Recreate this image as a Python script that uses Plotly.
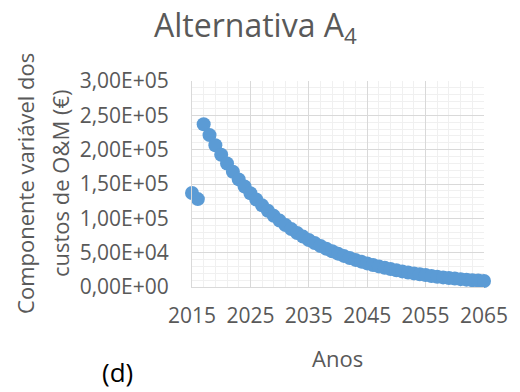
import plotly.graph_objects as go

# Annual variable O&M cost component, alternative A4
anos = list(range(2015, 2066))
custos = [
    137000, 128000,
    237000, 221200, 206500, 192700, 179900, 167900, 156700, 146300,
    136500, 127400, 118900, 111000, 103600, 96700, 90300, 84300,
    78700, 73400, 68500, 64000, 59700, 55700, 52000, 48600,
    45300, 42300, 39500, 36900, 34400, 32100, 30000, 28000,
    26100, 24400, 22700, 21200, 19800, 18500, 17300, 16100,
    15000, 14000, 13100, 12200, 11400, 10700, 9900, 9300, 8700,
]
y_ticks = [0, 50000, 100000, 150000, 200000, 250000, 300000]
y_labels = ["0,00E+00", "5,00E+04", "1,00E+05", "1,50E+05",
            "2,00E+05", "2,50E+05", "3,00E+05"]
x_ticks = [2015, 2025, 2035, 2045, 2055, 2065]

FONT = "Open Sans"
GREY = "#595959"

fig = go.Figure()
fig.add_trace(go.Scatter(
    x=anos, y=custos, mode="markers",
    marker=dict(size=14, color="#5B9BD5", line=dict(width=0)),
    showlegend=False, cliponaxis=False,
))

fig.update_layout(
    width=520, height=392,
    margin=dict(l=192, r=34, t=81, b=105),
    paper_bgcolor="white", plot_bgcolor="white",
    font=dict(family=FONT, color=GREY),
    xaxis=dict(
        range=[2015, 2065], tickvals=x_ticks,
        ticktext=[str(v) for v in x_ticks],
        tickfont=dict(size=21, color=GREY), ticks="", ticklen=0,
        ticklabelstandoff=10,
        showgrid=True, gridcolor="#D9D9D9", gridwidth=1,
        minor=dict(dtick=2, tick0=2015, showgrid=True, gridcolor="#F0F0F0", gridwidth=1),
        showline=True, linecolor="#D9D9D9", linewidth=1,
        zeroline=False, fixedrange=True,
    ),
    yaxis=dict(
        range=[0, 300000], tickvals=y_ticks, ticktext=y_labels,
        tickfont=dict(size=21, color=GREY), ticks="", ticklen=0,
        ticklabelstandoff=18,
        showgrid=True, gridcolor="#D9D9D9", gridwidth=1,
        minor=dict(dtick=10000, tick0=0, showgrid=True, gridcolor="#F0F0F0", gridwidth=1),
        showline=True, linecolor="#D9D9D9", linewidth=1,
        zeroline=False, fixedrange=True,
    ),
    annotations=[
        dict(text="Alternativa A<sub>4</sub>", xref="paper", yref="paper",
             x=0.218, y=1.26, xanchor="center", yanchor="middle",
             showarrow=False, font=dict(size=32, color=GREY)),
        dict(text="Componente variável dos",
             xref="paper", yref="paper", x=-0.572, y=0.505,
             xanchor="center", yanchor="middle", textangle=-90,
             showarrow=False, font=dict(size=22, color=GREY)),
        dict(text="custos de O&M (€)",
             xref="paper", yref="paper", x=-0.452, y=0.505,
             xanchor="center", yanchor="middle", textangle=-90,
             showarrow=False, font=dict(size=22, color=GREY)),
        dict(text="Anos", xref="paper", yref="paper", x=0.497, y=-0.345,
             xanchor="center", yanchor="middle", showarrow=False,
             font=dict(size=22, color=GREY)),
        dict(text="(d)", xref="paper", yref="paper", x=-0.255, y=-0.412,
             xanchor="center", yanchor="middle", showarrow=False,
             font=dict(size=26, color="#000000")),
    ],
)

fig.write_html("out.html")
